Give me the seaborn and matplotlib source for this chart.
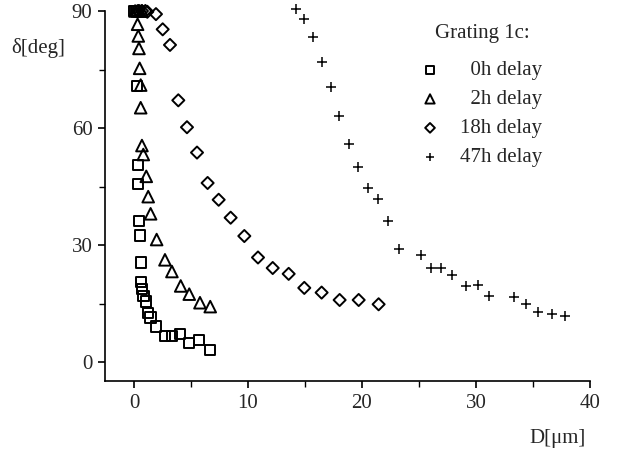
import matplotlib
matplotlib.use("Agg")
import matplotlib.pyplot as plt
import numpy as np
import pandas as pd
import seaborn as sns

# Grating 1c, angle delta vs distance D, four delays
x_0h = [0.0, 0.15, 0.3, 0.26, 0.38, 0.38, 0.44, 0.53, 0.59, 0.61, 0.73, 0.85,
        1.05, 1.25, 1.46, 1.96, 2.72, 3.33, 4.04, 4.82, 5.73, 6.69]
y_0h = [90.0, 90.0, 90.0, 70.8, 50.6, 45.7, 36.1, 32.4, 25.5, 20.6, 18.7, 17.0,
        15.5, 12.5, 11.4, 9.1, 6.7, 6.7, 7.1, 4.8, 5.6, 3.1]

x_2h = [0.1, 0.3, 0.5, 0.7, 0.32, 0.38, 0.44, 0.5, 0.59, 0.59, 0.7, 0.82, 1.08,
        1.25, 1.46, 1.99, 2.72, 3.33, 4.1, 4.85, 5.79, 6.69]
y_2h = [90.0, 90.0, 90.0, 90.0, 86.6, 83.6, 80.4, 75.3, 71.0, 65.2, 55.5, 53.2,
        47.6, 42.4, 38.0, 31.4, 26.2, 23.2, 19.5, 17.4, 15.2, 14.2]

x_18h = [0.4, 0.7, 1.0, 1.17, 1.93, 2.52, 3.16, 3.89, 4.65, 5.53, 6.46, 7.43,
         8.48, 9.68, 10.88, 12.17, 13.57, 14.94, 16.46, 18.04, 19.71, 21.46]
y_18h = [90.0, 90.0, 90.0, 89.8, 89.2, 85.3, 81.3, 67.1, 60.2, 53.7, 45.9, 41.6,
         37.0, 32.3, 26.8, 24.1, 22.6, 19.0, 17.8, 15.9, 15.9, 14.8]

x_47h = [14.21, 14.91, 15.68, 16.46, 17.25, 18.01, 18.86, 19.68, 20.55, 21.43,
         22.31, 23.25, 25.18, 26.05, 26.93, 27.92, 29.1, 30.15, 31.14, 33.36,
         34.39, 35.46, 36.64, 37.81]
y_47h = [90.5, 87.9, 83.4, 77.0, 70.5, 63.1, 56.0, 50.0, 44.6, 41.7, 36.1, 29.0,
         27.4, 24.0, 24.0, 22.3, 19.4, 19.8, 17.0, 16.7, 15.0, 12.9, 12.3, 11.8]

series = ["0h delay", "2h delay", "18h delay", "47h delay"]
# one en space (digit wide in Times-like fonts) keeps the labels right aligned
labels = ["\u20020h delay", "\u20022h delay", "18h delay", "47h delay"]
markers = ["s", "^", "D", "+"]
sizes = [55, 70, 38, 60]

df = pd.concat([
    pd.DataFrame({"D": x, "delta": y, "series": s})
    for x, y, s in zip([x_0h, x_2h, x_18h, x_47h], [y_0h, y_2h, y_18h, y_47h], series)
])

sns.set_style("ticks")
plt.rcParams["font.family"] = ["Liberation Serif", "DejaVu Serif"]

FS = 15

fig = plt.figure(figsize=(6.39, 4.55), dpi=100)
ax = fig.add_axes([105 / 639, 1 - 381 / 455, 485 / 639, 370 / 455])

for s, lab, m, sz in zip(series, labels, markers, sizes):
    sub = df[df["series"] == s]
    if m == "+":
        sns.scatterplot(data=sub, x="D", y="delta", marker=m, s=sz, color="black",
                        linewidth=1.1, ax=ax, label=lab, clip_on=False, zorder=3)
    else:
        sns.scatterplot(data=sub, x="D", y="delta", marker=m, s=sz, facecolor="none",
                        edgecolor="black", linewidth=1.4, ax=ax, label=lab,
                        clip_on=False, zorder=3)

ax.set_xlim(-2.54, 40)
ax.set_ylim(-4.87, 90)
ax.set_xticks([0, 10, 20, 30, 40])
ax.set_xticks([5, 15, 25, 35], minor=True)
ax.set_yticks([0, 30, 60, 90])
ax.set_yticks([15, 45, 75], minor=True)
ax.tick_params(which="major", length=5, width=1.2, labelsize=FS, pad=4, color="black")
ax.tick_params(which="minor", length=4, width=1.0, color="black")
sns.despine(ax=ax)
for sp in ["left", "bottom"]:
    ax.spines[sp].set_linewidth(1.2)
    ax.spines[sp].set_color("black")

ax.set_xlabel("D[μm]", fontsize=FS, va="center")
ax.xaxis.set_label_coords(0.934, -0.155)
ax.set_ylabel("δ[deg]", fontsize=FS, rotation=0, va="center")
ax.yaxis.set_label_coords(-0.138, 0.90)

ax.text(0.779, 0.94, "Grating 1c:", transform=ax.transAxes, fontsize=FS,
        ha="center", va="center")
leg = ax.legend(frameon=False, fontsize=FS, loc="upper left",
                bbox_to_anchor=(0.61, 0.916), markerscale=0.8,
                handletextpad=0.95, labelspacing=0.45, handlelength=1.0)

fig.savefig("out.png", dpi=100)
